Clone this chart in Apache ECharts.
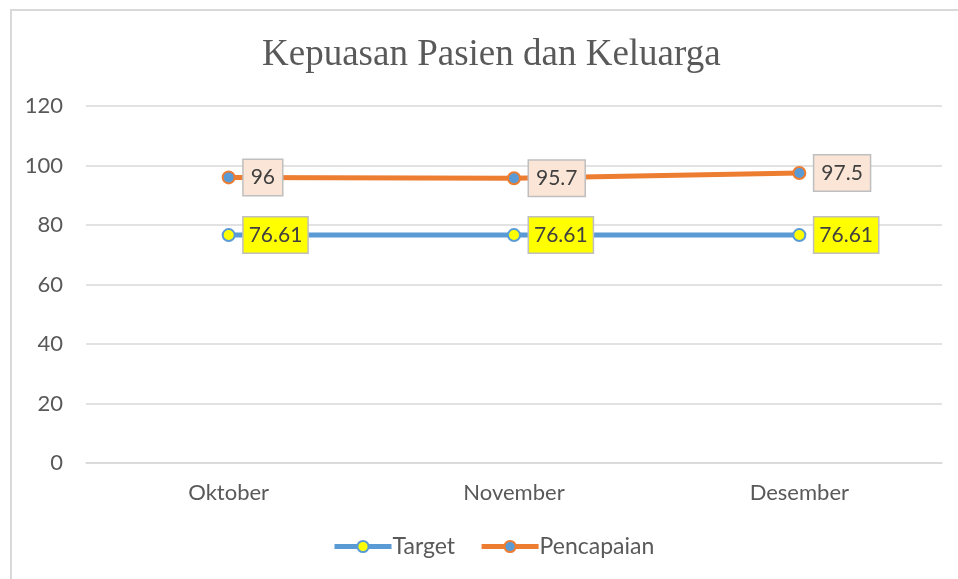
<!DOCTYPE html>
<html>
<head>
<meta charset="utf-8">
<script src="https://cdn.jsdelivr.net/npm/echarts@6/dist/echarts.min.js"></script>
<style>
  html, body { margin: 0; padding: 0; background: #fff; }
  #frame { position: absolute; left: 10px; top: 9px; width: 960px; height: 580px;
           border-left: 2px solid #D9D9D9; border-top: 2px solid #D9D9D9; }
  #main { position: absolute; left: 0; top: 0; width: 958px; height: 579px; }
</style>
</head>
<body>
<div id="frame"></div>
<div id="main"></div>
<script>
const months = ['Oktober', 'November', 'Desember']
const target = [76.61, 76.61, 76.61]
const pencapaian = [96, 95.7, 97.5]
const yTicks = { min: 0, max: 120, interval: 20 }

const labelFont = 'Lato, "Open Sans", sans-serif'

var chartDom = document.getElementById('main')
var myChart = echarts.init(chartDom)
var option

// the original chart area is a bit wider than the window, so title and legend sit right of centre
option = {
  title: {
    text: 'Kepuasan Pasien dan Keluarga',
    left: 257,
    top: 32,
    textStyle: {
      fontFamily: '"Liberation Serif", "Times New Roman", serif',
      fontSize: 37,
      fontWeight: 'normal',
      color: '#595959'
    }
  },
  legend: {
    bottom: 16,
    left: 327,
    itemWidth: 57,
    itemHeight: 14,
    itemGap: 24,
    lineStyle: { width: 5 },
    textStyle: { fontFamily: labelFont, fontSize: 23, color: '#595959', padding: [0, 0, 0, -4] },
    data: ['Target', 'Pencapaian']
  },
  grid: { left: 86, right: 16, top: 106, bottom: 116 },
  xAxis: {
    type: 'category',
    data: months,
    boundaryGap: true,
    axisLine: { lineStyle: { color: '#D9D9D9', width: 1.5 } },
    axisTick: { show: false },
    axisLabel: { fontFamily: labelFont, fontSize: 22, color: '#595959', margin: 19 }
  },
  yAxis: {
    type: 'value',
    min: yTicks.min,
    max: yTicks.max,
    interval: yTicks.interval,
    axisLine: { show: false },
    axisTick: { show: false },
    axisLabel: { fontFamily: labelFont, fontSize: 22, color: '#595959', margin: 23 },
    splitLine: { lineStyle: { color: '#D9D9D9', width: 1.5 } }
  },
  series: [
    {
      name: 'Target',
      type: 'line',
      data: target,
      symbol: 'circle',
      symbolSize: 12,
      lineStyle: { color: '#5B9BD5', width: 5 },
      itemStyle: { color: '#FFFF00', borderColor: '#5B9BD5', borderWidth: 2 },
      label: {
        show: true,
        position: 'right',
        distance: 8,
        fontFamily: labelFont,
        fontSize: 21,
        color: '#404040',
        backgroundColor: '#FFFF00',
        borderColor: '#BFBFBF',
        borderWidth: 1.5,
        padding: [8, 5, 6, 5]
      }
    },
    {
      name: 'Pencapaian',
      type: 'line',
      data: pencapaian,
      symbol: 'circle',
      symbolSize: 12,
      lineStyle: { color: '#ED7D31', width: 5 },
      itemStyle: { color: '#5B9BD5', borderColor: '#ED7D31', borderWidth: 2 },
      label: {
        show: true,
        position: 'right',
        distance: 8,
        fontFamily: labelFont,
        fontSize: 21,
        color: '#404040',
        backgroundColor: '#FBE5D6',
        borderColor: '#BFBFBF',
        borderWidth: 1.5,
        padding: [8, 7, 6, 7]
      }
    }
  ]
}

option && myChart.setOption(option)
</script>
</body>
</html>
